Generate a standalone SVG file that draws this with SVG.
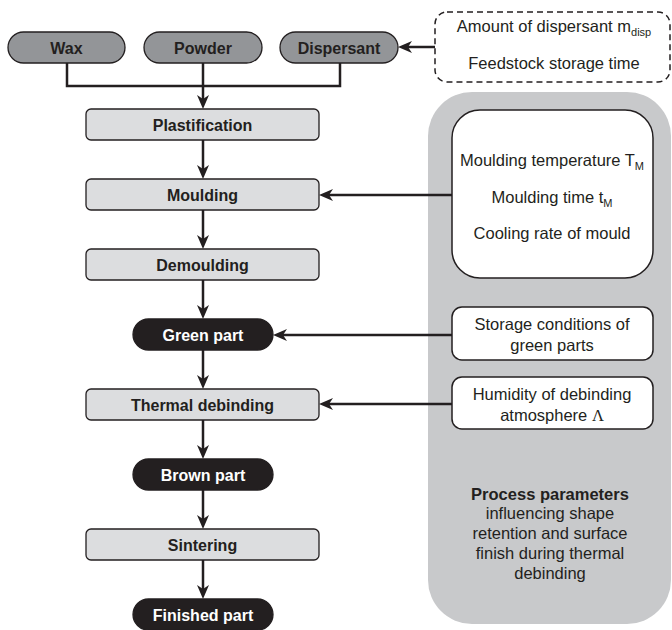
<svg xmlns="http://www.w3.org/2000/svg" width="672" height="630" viewBox="0 0 672 630">
<style>
.step{fill:#dcdddf;stroke:#231f20;stroke-width:1.3}
.in{fill:#939598;stroke:#231f20;stroke-width:1.3}
.part{fill:#231f20;stroke:#231f20;stroke-width:1.3}
.box{fill:#ffffff;stroke:#231f20;stroke-width:1.5}
.lbl{font-family:"Liberation Sans",Arial,sans-serif;font-weight:bold;font-size:16px;fill:#231f20;text-anchor:middle}
.wl{fill:#ffffff}
.txt{font-family:"Liberation Sans",Arial,sans-serif;font-size:16.5px;fill:#231f20;text-anchor:middle}
.con{fill:none;stroke:#231f20;stroke-width:2.5}
</style>
<defs>
<marker id="arr" viewBox="-15 -7 16 14" refX="-8" refY="0" markerWidth="16" markerHeight="14" markerUnits="userSpaceOnUse" orient="auto">
<path d="M0,0 L-14,-6 L-10,0 L-14,6 Z" fill="#231f20"/>
</marker>
</defs>

<g id="panel">
<rect x="428" y="92" width="243" height="532" rx="44" ry="44" fill="#c8c9cb"/>
</g>

<g id="connectors">
<polyline class="con" points="67,63 67,86 340,86 340,63"/>
<line class="con" x1="203" y1="63" x2="203" y2="101" marker-end="url(#arr)"/>
<line class="con" x1="203" y1="140" x2="203" y2="171" marker-end="url(#arr)"/>
<line class="con" x1="203" y1="210" x2="203" y2="241" marker-end="url(#arr)"/>
<line class="con" x1="203" y1="280" x2="203" y2="311" marker-end="url(#arr)"/>
<line class="con" x1="203" y1="350" x2="203" y2="381" marker-end="url(#arr)"/>
<line class="con" x1="203" y1="420" x2="203" y2="451" marker-end="url(#arr)"/>
<line class="con" x1="203" y1="490" x2="203" y2="521" marker-end="url(#arr)"/>
<line class="con" x1="203" y1="560" x2="203" y2="591" marker-end="url(#arr)"/>
<line class="con" x1="435" y1="47" x2="406" y2="47" marker-end="url(#arr)"/>
<line class="con" x1="452" y1="195" x2="327" y2="195" marker-end="url(#arr)"/>
<line class="con" x1="452" y1="335" x2="281" y2="335" marker-end="url(#arr)"/>
<line class="con" x1="452" y1="404" x2="327" y2="404" marker-end="url(#arr)"/>
</g>

<g id="wax"><rect class="in" x="8" y="32" width="117" height="31" rx="15.5"/><text class="lbl" x="66.5" y="53.5">Wax</text></g>
<g id="powder"><rect class="in" x="144" y="32" width="118" height="31" rx="15.5"/><text class="lbl" x="203" y="53.5">Powder</text></g>
<g id="dispersant"><rect class="in" x="280" y="32" width="118" height="31" rx="15.5"/><text class="lbl" x="339" y="53.5">Dispersant</text></g>

<g id="plastification"><rect class="step" x="86" y="109" width="233" height="31" rx="5"/><text class="lbl" x="202.5" y="130.5">Plastification</text></g>
<g id="moulding"><rect class="step" x="86" y="179" width="233" height="31" rx="5"/><text class="lbl" x="202.5" y="200.5">Moulding</text></g>
<g id="demoulding"><rect class="step" x="86" y="249" width="233" height="31" rx="5"/><text class="lbl" x="202.5" y="270.5">Demoulding</text></g>
<g id="green-part"><rect class="part" x="133" y="319" width="140" height="31" rx="15.5"/><text class="lbl wl" x="203" y="340.5">Green part</text></g>
<g id="thermal-debinding"><rect class="step" x="86" y="389" width="233" height="31" rx="5"/><text class="lbl" x="202.5" y="410.5">Thermal debinding</text></g>
<g id="brown-part"><rect class="part" x="133" y="459" width="140" height="31" rx="15.5"/><text class="lbl wl" x="203" y="480.5">Brown part</text></g>
<g id="sintering"><rect class="step" x="86" y="529" width="233" height="31" rx="5"/><text class="lbl" x="202.5" y="550.5">Sintering</text></g>
<g id="finished-part"><rect class="part" x="133" y="599" width="140" height="31" rx="15.5"/><text class="lbl wl" x="203" y="620.5">Finished part</text></g>

<g id="feedstock-params">
<rect x="435" y="12" width="235" height="70" rx="12" fill="none" stroke="#231f20" stroke-width="1.5" stroke-dasharray="6,4"/>
<text class="txt" x="554" y="32">Amount of dispersant m<tspan font-size="11" dy="4">disp</tspan></text>
<text class="txt" x="554" y="69">Feedstock storage time</text>
</g>

<g id="moulding-params">
<rect class="box" x="452" y="110" width="201" height="168" rx="28"/>
<text class="txt" x="552" y="166">Moulding temperature T<tspan font-size="11" dy="4">M</tspan></text>
<text class="txt" x="552" y="203">Moulding time t<tspan font-size="11" dy="4">M</tspan></text>
<text class="txt" x="552" y="239">Cooling rate of mould</text>
</g>

<g id="storage-params">
<rect class="box" x="452" y="307" width="201" height="53" rx="10"/>
<text class="txt" x="552" y="330">Storage conditions of</text>
<text class="txt" x="552" y="351">green parts</text>
</g>

<g id="humidity-params">
<rect class="box" x="452" y="377" width="201" height="52" rx="10"/>
<text class="txt" x="552" y="400">Humidity of debinding</text>
<text class="txt" x="552" y="421">atmosphere <tspan font-family="'Liberation Serif',serif">Λ</tspan></text>
</g>

<g id="panel-caption">
<text class="txt" x="550" y="500" font-weight="bold">Process parameters</text>
<text class="txt" x="550" y="519">influencing shape</text>
<text class="txt" x="550" y="539">retention and surface</text>
<text class="txt" x="550" y="559">finish during thermal</text>
<text class="txt" x="550" y="579">debinding</text>
</g>
</svg>
